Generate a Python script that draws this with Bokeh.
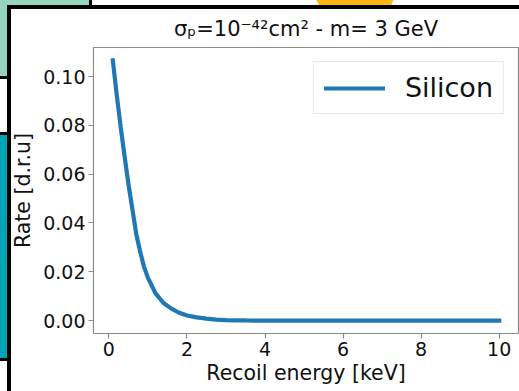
from bokeh.plotting import figure
from bokeh.models import FixedTicker, PrintfTickFormatter
from bokeh.embed import file_html
from bokeh.resources import INLINE

# Recoil spectrum of a 3 GeV WIMP on silicon (differential rate units)
recoil_energy_kev = [0.1, 0.2, 0.3, 0.4, 0.5, 0.6, 0.7, 0.8, 0.9, 1.0,
                     1.2, 1.4, 1.6, 1.8, 2.0, 2.25, 2.5, 2.75, 3.0, 3.25,
                     3.5, 3.75, 4.0, 5.0, 6.0, 7.0, 8.0, 9.0, 10.0]
rate_silicon = [0.1066, 0.0925, 0.0795, 0.0675, 0.0560, 0.0458, 0.0355, 0.0283, 0.0220, 0.0175,
                0.0110, 0.0072, 0.0049, 0.0032, 0.0021, 0.0013, 0.0008, 0.0004, 0.0002, 0.0001,
                0.00004, 0.0, 0.0, 0.0, 0.0, 0.0, 0.0, 0.0, 0.0]

x_ticks = [0, 2, 4, 6, 8, 10]
y_ticks = [0.0, 0.02, 0.04, 0.06, 0.08, 0.10]

title_text = "σₚ=10⁻⁴²cm² - m= 3 GeV"
series_name = "Silicon"
x_label = "Recoil energy [keV]"
y_label = "Rate [d.r.u]"

FONT = "DejaVu Sans"
INK = "#111111"
SPINE = "#8a8a8a"

p = figure(width=519, height=391, output_backend="svg", toolbar_location=None,
           x_range=(-0.395, 10.495), y_range=(-0.0053, 0.1119),
           min_border_left=93, min_border_right=1, min_border_top=47, min_border_bottom=58,
           title=title_text)

# slide decorations painted behind a transparent border area:
# black panel edges, white panel, yellow disc, mint and teal side boxes
layers = [
    ("linear-gradient(#000,#000)", "7px 5px", "512px 4px"),
    ("linear-gradient(#000,#000)", "7px 5px", "4px 386px"),
    ("linear-gradient(#fff,#fff)", "11px 9px", "508px 382px"),
    ("radial-gradient(circle 41px at 355px -13px, #fcb813 40px, rgba(252,184,19,0) 41px)", "0px 0px", "519px 20px"),
    ("linear-gradient(#96d4bd,#96d4bd)", "0px 0px", "89px 76px"),
    ("linear-gradient(#000,#000)", "0px 0px", "92px 79px"),
    ("linear-gradient(#00a5b5,#00a5b5)", "0px 135px", "8px 223px"),
    ("linear-gradient(#000,#000)", "0px 132px", "8px 229px"),
]
p.styles = {
    "background-color": "#ffffff",
    "background-image": ", ".join(l[0] for l in layers),
    "background-position": ", ".join(l[1] for l in layers),
    "background-size": ", ".join(l[2] for l in layers),
    "background-repeat": "no-repeat",
}

p.line(recoil_energy_kev, rate_silicon, line_width=4.2, color="#1f77b4",
       line_cap="square", legend_label=series_name)

p.grid.visible = False
p.background_fill_color = "white"
p.border_fill_alpha = 0.0
p.outline_line_color = SPINE
p.outline_line_width = 1.2

p.title.text_font = FONT
p.title.text_font_size = "21px"
p.title.text_font_style = "normal"
p.title.text_color = INK
p.title.align = "center"
p.title.standoff = 13

p.xaxis.ticker = FixedTicker(ticks=x_ticks)
p.xaxis.formatter = PrintfTickFormatter(format="%d")
p.yaxis.ticker = FixedTicker(ticks=y_ticks)
p.yaxis.formatter = PrintfTickFormatter(format="%.2f")

for ax in (p.xaxis[0], p.yaxis[0]):
    ax.axis_line_color = None
    ax.major_tick_line_color = SPINE
    ax.major_tick_line_width = 1.2
    ax.major_tick_out = 5
    ax.major_tick_in = 0
    ax.minor_tick_line_color = None
    ax.major_label_text_font = FONT
    ax.major_label_text_font_size = "19px"
    ax.major_label_text_color = INK
    ax.major_label_standoff = 3
    ax.axis_label_text_font = FONT
    ax.axis_label_text_font_size = "20.5px"
    ax.axis_label_text_font_style = "normal"
    ax.axis_label_text_color = INK

p.xaxis.axis_label = x_label
p.xaxis.axis_label_standoff = 2
p.yaxis.axis_label = y_label
p.yaxis.axis_label_standoff = 5

p.legend.location = "top_right"
p.legend.margin = 14
p.legend.padding = 10
p.legend.glyph_width = 61
p.legend.glyph_height = 26
p.legend.label_standoff = 20
p.legend.label_text_font = FONT
p.legend.label_text_font_size = "27px"
p.legend.label_text_color = INK
p.legend.border_line_color = "#d4d4d4"
p.legend.border_line_width = 1
p.legend.background_fill_color = "white"
p.legend.background_fill_alpha = 1.0

open("out.html", "w").write(file_html(p, INLINE))
